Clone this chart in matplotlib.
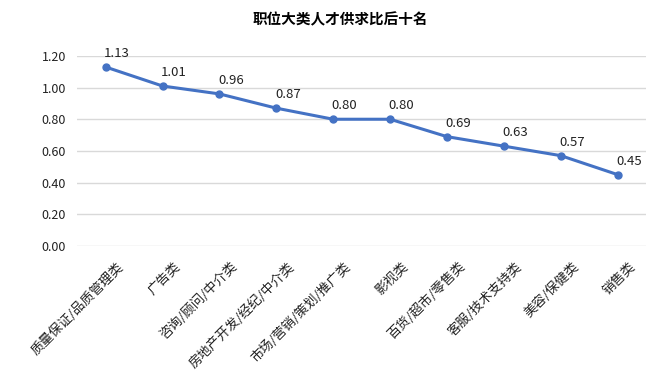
import matplotlib.pyplot as plt
from matplotlib.transforms import ScaledTranslation

plt.rcParams['font.family'] = ['Noto Sans CJK SC', 'DejaVu Sans']

# 职位类别和人才供求比
categories = ['质量保证/品质管理类', '广告类', '咨询/顾问/中介类', '房地产开发/经纪/中介类',
              '市场/营销/策划/推广类', '影视类', '百货/超市/零售类', '客服/技术支持类',
              '美容/保健类', '销售类']
values = [1.13, 1.01, 0.96, 0.87, 0.80, 0.80, 0.69, 0.63, 0.57, 0.45]
yticks = [0.0, 0.2, 0.4, 0.6, 0.8, 1.0, 1.2]

fig = plt.figure(figsize=(6.54, 3.83), dpi=100)
ax = fig.add_axes([0.118, 0.358, 0.870, 0.496])

x = list(range(len(categories)))
ax.plot(x, values, color='#4472C4', linewidth=2.2, marker='o', markersize=5, zorder=3)

# 数据标签
for xi, v in zip(x, values):
    ax.annotate(f'{v:.2f}', (xi, v), xytext=(-1, 5), textcoords='offset points',
                ha='left', va='bottom', fontsize=9.5, color='#222222')

ax.set_xlim(-0.5, len(categories) - 0.5)
ax.set_ylim(0, 1.2)
ax.set_yticks(yticks)
ax.set_yticklabels([f'{t:.2f}' for t in yticks], fontsize=9, color='#222222')
ax.set_xticks(x)
ax.set_xticklabels([])

# 斜着的类别标签, 往右下挪一点
shift = ScaledTranslation(8 / 72, -10 / 72, fig.dpi_scale_trans)
for xi, name in zip(x, categories):
    ax.text(xi, 0, name, transform=ax.get_xaxis_transform() + shift,
            rotation=45, ha='right', va='top', rotation_mode='anchor',
            fontsize=9.5, color='#222222')

ax.tick_params(axis='both', length=0)
ax.tick_params(axis='y', pad=8)
ax.grid(axis='y', color='#d9d9d9', linewidth=1)
ax.set_axisbelow(True)
for s in ax.spines.values():
    s.set_visible(False)

fig.suptitle('职位大类人才供求比后十名', x=0.52, y=0.97, fontsize=10.5, fontweight='bold')

fig.savefig('out.png', dpi=100)
